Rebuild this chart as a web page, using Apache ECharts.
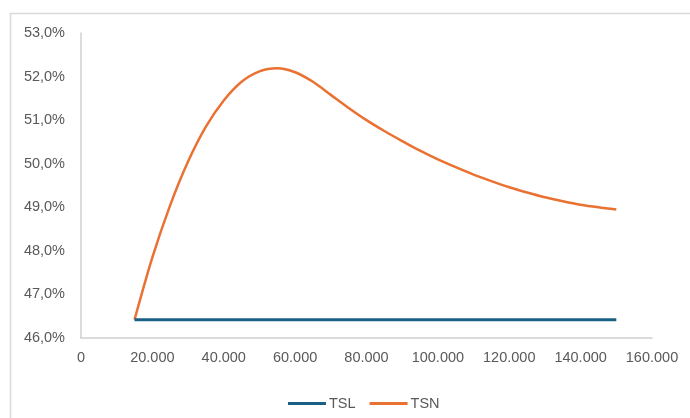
<!DOCTYPE html>
<html>
<head>
<meta charset="utf-8">
<script src="https://cdn.jsdelivr.net/npm/echarts@6/dist/echarts.min.js"></script>
<style>
html,body{margin:0;padding:0;background:#fff;}
#chart{width:690px;height:418px;}
</style>
</head>
<body>
<div id="chart"></div>
<script>
// Data (values in percent)
var xValues = [15000,20000,25000,30000,35000,40000,45000,50000,55000,60000,65000,70000,75000,80000,85000,90000,95000,100000,105000,110000,115000,120000,125000,130000,135000,140000,145000,150000];
var tsnValues = [46.42,47.85,49.05,50.05,50.85,51.45,51.88,52.12,52.19,52.10,51.88,51.58,51.28,51.00,50.75,50.52,50.30,50.10,49.92,49.75,49.60,49.46,49.34,49.23,49.14,49.06,49.00,48.95];
var tslX = [15000,150000];
var tslValues = [46.42,46.42];
var seriesNames = ['TSL','TSN'];
var yTicks = {min:46, max:53, interval:1};
var xTicks = {min:0, max:160000, interval:20000};

var tsnData = xValues.map(function(x,i){return [x,tsnValues[i]];});
var tslData = tslX.map(function(x,i){return [x,tslValues[i]];});

var fontFam = '"Liberation Sans", Arial, sans-serif';
var textColor = '#595959';

var chart = echarts.init(document.getElementById('chart'), null, {renderer:'canvas'});
chart.setOption({
  backgroundColor:'#ffffff',
  animation:false,
  graphic:[{
    type:'rect', left:8, top:11, silent:true,
    shape:{x:0,y:0,width:900,height:600},
    style:{fill:'none', stroke:'#D9D9D9', lineWidth:1.5}
  }],
  grid:{left:81, right:38, top:33, bottom:80, containLabel:false},
  legend:{
    data:seriesNames,
    left:283, top:391,
    icon:'rect', itemWidth:38, itemHeight:3, itemGap:14,
    textStyle:{fontFamily:fontFam, fontSize:14.5, color:textColor, padding:[0,0,0,-2]}
  },
  xAxis:{
    type:'value', min:xTicks.min, max:xTicks.max, interval:xTicks.interval,
    axisLine:{show:true, lineStyle:{color:'#D0D0D0', width:1.5}},
    axisTick:{show:false},
    splitLine:{show:false},
    axisLabel:{
      margin:12, fontFamily:fontFam, fontSize:14.5, color:textColor,
      formatter:function(v){return v===0?'0':String(v).replace(/\B(?=(\d{3})+(?!\d))/g,'.');}
    }
  },
  yAxis:{
    type:'value', min:yTicks.min, max:yTicks.max, interval:yTicks.interval,
    axisLine:{show:true, lineStyle:{color:'#D0D0D0', width:1.5}},
    axisTick:{show:false},
    splitLine:{show:false},
    axisLabel:{
      margin:16, fontFamily:fontFam, fontSize:14.5, color:textColor,
      formatter:function(v){return v.toFixed(1).replace('.',',')+'%';}
    }
  },
  series:[
    {name:'TSL', type:'line', data:tslData, showSymbol:false, symbol:'none',
     lineStyle:{color:'#1A5F84', width:3}, itemStyle:{color:'#1A5F84'}, z:3},
    {name:'TSN', type:'line', data:tsnData, showSymbol:false, symbol:'none', smooth:0.3,
     lineStyle:{color:'#E97132', width:2.5}, itemStyle:{color:'#E97132'}, z:2}
  ]
});
</script>
</body>
</html>
